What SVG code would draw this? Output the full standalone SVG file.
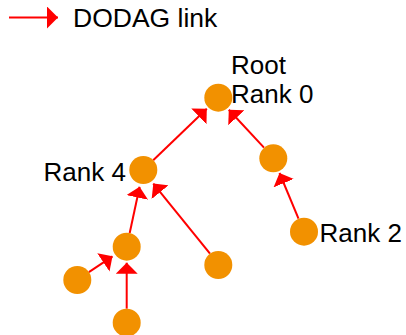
<svg xmlns="http://www.w3.org/2000/svg" width="406" height="335" viewBox="0 0 406 335">
<style>
.n{fill:#F29100}
.l{stroke:#FF0000;stroke-width:2;fill:none;marker-end:url(#ah)}
text{font-family:"Liberation Sans",Arial,sans-serif;font-size:26px;fill:#000}
</style>
<defs>
<marker id="ah" markerUnits="userSpaceOnUse" viewBox="0 0 11 22" refX="11" refY="11" markerWidth="11" markerHeight="22" orient="auto">
<path d="M0,0 L11,11 L0,22 Z" fill="#FF0000"/>
</marker>
</defs>
<g id="legend">
<line class="l" x1="9" y1="17.5" x2="58" y2="17.5"/>
<text x="73" y="27" style="font-size:26.5px">DODAG link</text>
</g>
<g id="connectors">
<line class="l" x1="153.2" y1="160.3" x2="206.8" y2="108.8"/>
<line class="l" x1="264.0" y1="147.6" x2="228.8" y2="109.8"/>
<line class="l" x1="298.5" y1="218.7" x2="279.5" y2="173.0"/>
<line class="l" x1="129.7" y1="233.0" x2="139.6" y2="186.7"/>
<line class="l" x1="210.0" y1="253.7" x2="153.3" y2="183.6"/>
<line class="l" x1="88.9" y1="272.2" x2="112.5" y2="256.3"/>
<line class="l" x1="126.7" y1="308.7" x2="126.7" y2="262.7"/>
</g>
<g id="root"><circle class="n" cx="218.3" cy="97.7" r="14"/><text x="231" y="74">Root</text><text x="231" y="103">Rank 0</text></g>
<g id="rank4"><circle class="n" cx="143.3" cy="170" r="14"/><text x="43.5" y="180.5">Rank 4</text></g>
<g id="rightmid"><circle class="n" cx="273.3" cy="158.3" r="14"/></g>
<g id="rank2"><circle class="n" cx="304" cy="231.7" r="14"/><text x="319.5" y="242">Rank 2</text></g>
<g id="mid"><circle class="n" cx="126.7" cy="246.7" r="14"/></g>
<g id="right"><circle class="n" cx="218.3" cy="265" r="14"/></g>
<g id="left"><circle class="n" cx="77.3" cy="280" r="14"/></g>
<g id="bottom"><circle class="n" cx="126.7" cy="322.7" r="14"/></g>
</svg>
